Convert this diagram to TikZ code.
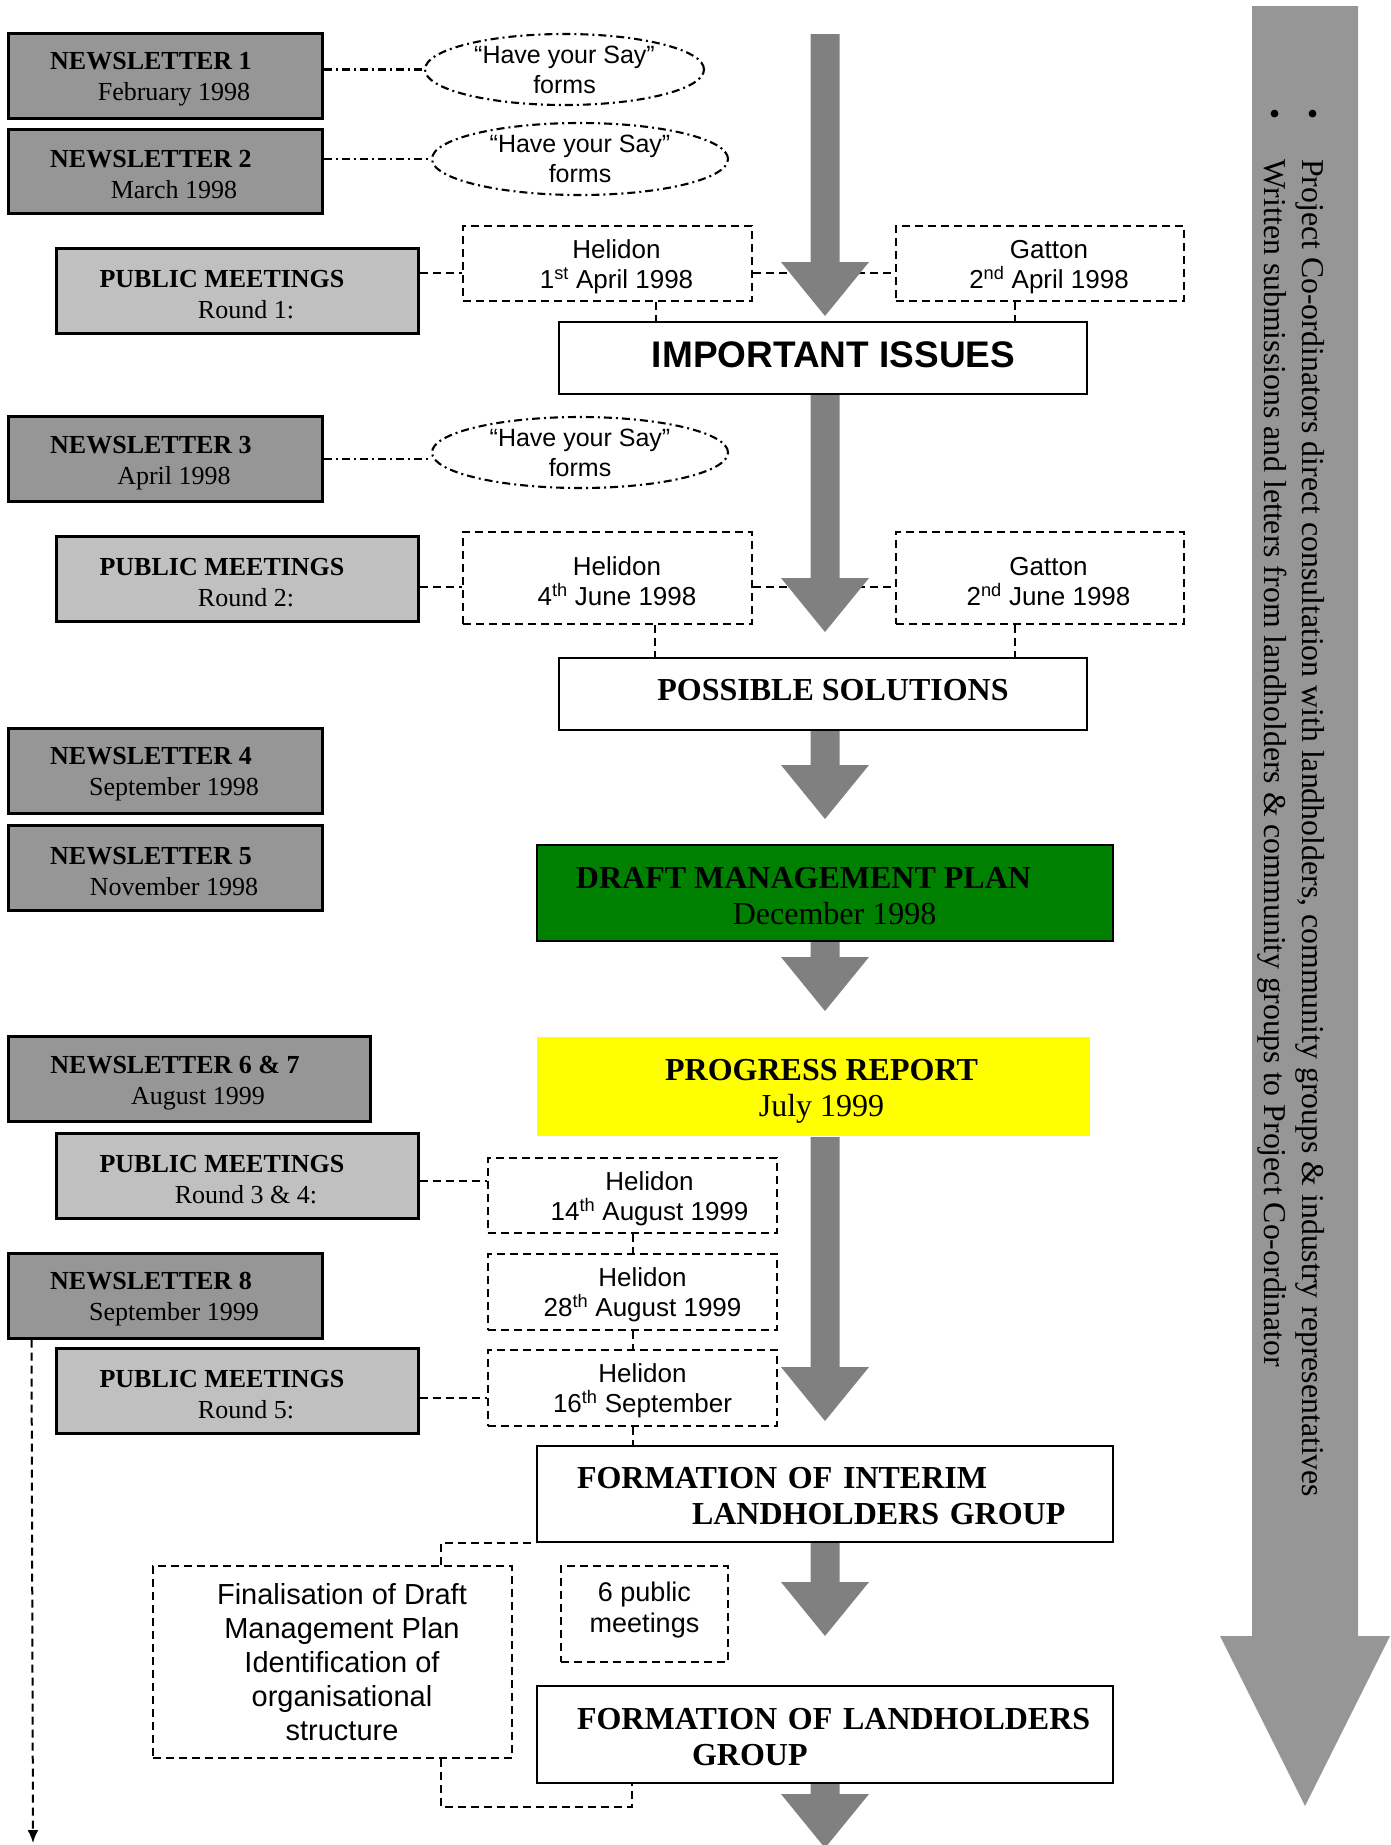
\documentclass[tikz,border=0pt]{standalone}
\usepackage{fontspec}
\setmainfont{Liberation Serif}
\setsansfont{Liberation Sans}
\usetikzlibrary{calc,shapes.geometric,arrows.meta}
\pgfdeclarelayer{background}
\pgfsetlayers{background,main}
\definecolor{nlgray}{HTML}{969696}
\definecolor{pmgray}{HTML}{C0C0C0}
\definecolor{arrgray}{HTML}{808080}
\definecolor{biggray}{HTML}{969696}
\definecolor{draftgreen}{HTML}{008000}
\definecolor{progyellow}{HTML}{FFFF00}
\newcommand\fSer{\fontsize{26pt}{31pt}\selectfont}
\newcommand\fSans{\sffamily\fontsize{26pt}{30pt}\selectfont}
\newcommand\fSay{\sffamily\fontsize{25pt}{30pt}\selectfont}
\newcommand\fBig{\fontsize{32pt}{36pt}\selectfont}
\newcommand\fImp{\sffamily\bfseries\fontsize{37pt}{40pt}\selectfont}
\newcommand\fFin{\sffamily\fontsize{29pt}{34pt}\selectfont}
\newcommand\fSix{\sffamily\fontsize{27pt}{31pt}\selectfont}
\newcommand\fRot{\fontsize{31.8pt}{38pt}\selectfont}
\newcommand\sh[1]{\hspace*{#1pt}}
\newcommand\up[1]{\rule{0pt}{#1pt}}
\newcommand\dn[1]{\rule[-#1pt]{0pt}{0pt}}
\newcommand\blockarrow[2]{\fill[arrgray] let \p1=#1, \p2=#2 in
  (\x2-14.5pt,\y1) -- (\x2+14.5pt,\y1) -- (\x2+14.5pt,\y2+54pt) -- (\x2+44pt,\y2+54pt)
  -- (\x2,\y2) -- (\x2-44pt,\y2+54pt) -- (\x2-14.5pt,\y2+54pt) -- cycle;}
\begin{document}
\begin{tikzpicture}[x=1pt,y=-1pt,
  nlbox/.style={draw=black, line width=3pt, fill=nlgray, minimum width=314pt, minimum height=85pt, inner sep=0pt, align=center, font=\fSer},
  pmbox/.style={draw=black, line width=3pt, fill=pmgray, minimum width=362pt, minimum height=85pt, inner sep=0pt, align=center, font=\fSer},
  saybub/.style={ellipse, draw=black, line width=2.1pt, dash pattern=on 8pt off 4pt on 2pt off 4pt, inner sep=0pt, align=center, font=\fSay},
  dbox/.style={draw=black, line width=2pt, dash pattern=on 8pt off 5pt, inner sep=0pt, align=center, font=\fSans},
  mainbox/.style={draw=black, line width=2pt, inner sep=0pt, align=center, minimum width=576pt},
  leftbox/.style={mainbox, text width=540pt, align=left, font=\fBig, minimum height=96pt},
  dcon/.style={line width=2pt, dash pattern=on 8pt off 5pt},
  ddcon/.style={line width=2.1pt, dash pattern=on 8pt off 4pt on 2pt off 4pt},
  rottext/.style={rotate=-90, anchor=base west, inner sep=0pt, font=\fRot},
]
\path[use as bounding box, fill=white] (0,0) rectangle (1391,1845);

% right-hand consultation arrow
\fill[biggray] (1252,6) -- (1358,6) -- (1358,1636) -- (1390,1636) -- (1305,1806) -- (1220,1636) -- (1252,1636) -- cycle;
\node[rottext] (b1) at (1302,108) {\makebox[51pt][l]{\textbullet}Project Co-ordinators direct consultation with landholders, community groups \& industry representatives};
\node[rottext] (b2) at (1264,108) {\makebox[51pt][l]{\textbullet}Written submissions and letters from landholders \& community groups to Project Co-ordinator};

% newsletters
\node[nlbox] (nl1) at (165,75.5) {\up{25}\sh{-28}\textbf{NEWSLETTER 1}\\\sh{18}February 1998};
\node[nlbox, minimum height=84pt] (nl2) at (165,171) {\up{25}\sh{-28}\textbf{NEWSLETTER 2}\\\sh{18}March 1998};
\node[nlbox] (nl3) at (165,459) {\up{25}\sh{-28}\textbf{NEWSLETTER 3}\\\sh{18}April 1998};
\node[nlbox] (nl4) at (165,770.5) {\up{25}\sh{-28}\textbf{NEWSLETTER 4}\\\sh{18}September 1998};
\node[nlbox] (nl5) at (165,867.5) {\up{25}\sh{-28}\textbf{NEWSLETTER 5}\\\sh{18}November 1998};
\node[nlbox, minimum width=362pt] (nl67) at (189,1079) {\up{25}\sh{-28}\textbf{NEWSLETTER 6 \& 7}\\\sh{18}August 1999};
\node[nlbox] (nl8) at (165,1295.5) {\up{25}\sh{-28}\textbf{NEWSLETTER 8}\\\sh{18}September 1999};

% public meetings
\node[pmbox] (pm1) at (237,291) {\up{25}\sh{-30}\textbf{PUBLIC MEETINGS}\\\sh{18}Round 1:};
\node[pmbox] (pm2) at (237,579) {\up{25}\sh{-30}\textbf{PUBLIC MEETINGS}\\\sh{18}Round 2:};
\node[pmbox] (pm34) at (237,1175.5) {\up{25}\sh{-30}\textbf{PUBLIC MEETINGS}\\\sh{18}Round 3 \& 4:};
\node[pmbox] (pm5) at (237,1391) {\up{25}\sh{-30}\textbf{PUBLIC MEETINGS}\\\sh{18}Round 5:};

% have your say forms
\node[saybub, minimum width=279pt, minimum height=71pt] (e1) at (564.5,69.5) {“Have your Say”\\forms};
\node[saybub, minimum width=296pt, minimum height=72pt] (e2) at (580,159) {“Have your Say”\\forms};
\node[saybub, minimum width=296pt, minimum height=71pt] (e3) at (580,452.5) {“Have your Say”\\forms};

% meeting venues
\node[dbox, minimum width=289pt, minimum height=75pt] (h1) at (607.5,263.5) {\up{25}\sh{18}Helidon\\\sh{18}1\textsuperscript{st} April 1998};
\node[dbox, minimum width=288pt, minimum height=75pt] (g1) at (1040,263.5) {\up{25}\sh{18}Gatton\\\sh{18}2\textsuperscript{nd} April 1998};
\node[dbox, minimum width=289pt, minimum height=92pt] (h2) at (607.5,578) {\up{25}\sh{19}Helidon\\\sh{19}4\textsuperscript{th} June 1998};
\node[dbox, minimum width=288pt, minimum height=92pt] (g2) at (1040,578) {\up{25}\sh{17}Gatton\\\sh{17}2\textsuperscript{nd} June 1998};
\node[dbox, minimum width=289pt, minimum height=75pt] (h3) at (632.5,1195.5) {\up{25}\sh{34}Helidon\\\sh{34}14\textsuperscript{th} August 1999};
\node[dbox, minimum width=289pt, minimum height=76pt] (h4) at (632.5,1292) {\up{25}\sh{20}Helidon\\\sh{20}28\textsuperscript{th} August 1999};
\node[dbox, minimum width=289pt, minimum height=76pt] (h5) at (632.5,1388) {\up{25}\sh{20}Helidon\\\sh{20}16\textsuperscript{th} September};
\node[dbox, font=\fSix, minimum width=167pt, minimum height=96pt] (six) at (644.5,1614) {6 public\\meetings\dn{13}};
\node[dbox, font=\fFin, minimum width=359pt, minimum height=192pt] (fin) at (332.5,1662) {\sh{19}Finalisation of Draft\\\sh{19}Management Plan\\\sh{19}Identification of\\\sh{19}organisational\\\sh{19}structure};

% main flow
\node[mainbox, minimum width=528pt, minimum height=72pt, font=\fImp] (imp) at (823,358) {\sh{21}IMPORTANT ISSUES\dn{6}};
\node[mainbox, minimum width=528pt, minimum height=72pt, font=\fBig] (pos) at (823,694) {\sh{20}\textbf{POSSIBLE SOLUTIONS}\dn{8}};
\node[mainbox, fill=draftgreen, minimum height=96pt, font=\fBig] (draft) at (825,893) {\up{27}\sh{-43}\textbf{DRAFT MANAGEMENT PLAN}\\\sh{19}December 1998};
\node[mainbox, draw=none, fill=progyellow, minimum width=553pt, minimum height=99pt, font=\fBig] (prog) at (813.5,1086.5) {\up{30.5}\sh{16}\textbf{PROGRESS REPORT}\\\sh{16}July 1999};
\node[leftbox] (interim) at (825,1494) {\up{26}\sh{22}\textbf{FORMATION OF INTERIM}\\\sh{137}\textbf{LANDHOLDERS GROUP}};
\node[leftbox, minimum height=97pt] (land) at (825,1734.5) {\up{27}\sh{22}\textbf{FORMATION OF LANDHOLDERS}\\\sh{137}\textbf{GROUP}};

% left time line
\begin{pgfonlayer}{background}
\draw[line width=2pt] ([xshift=25pt]nl1.south west) -- ([xshift=25pt]nl8.north west);
\end{pgfonlayer}
\coordinate (lend) at (33,1843);
\draw[line width=2pt, dash pattern=on 8pt off 5pt, -{Latex[length=13pt,width=11pt]}] ([xshift=25pt]nl8.south west) -- (lend);

% dash-dot links to forms
\draw[ddcon] (nl1.east |- e1.west) -- (e1.west);
\draw[ddcon] (nl2.east |- e2.west) -- (e2.west);
\draw[ddcon] (nl3.east) -- (nl3.east -| e3.west);

% dashed links
\coordinate (r1) at (0,273);
\coordinate (r2) at (0,587);
\coordinate (r3) at (0,1181);
\coordinate (r5) at (0,1398);
\draw[dcon] (pm1.east |- r1) -- (h1.west |- r1);
\draw[dcon] (h1.east |- r1) -- (g1.west |- r1);
\draw[dcon] (pm2.east |- r2) -- (h2.west |- r2);
\draw[dcon] (h2.east |- r2) -- (g2.west |- r2);
\draw[dcon] (pm34.east |- r3) -- (h3.west |- r3);
\draw[dcon] (pm5.east |- r5) -- (h5.west |- r5);
\draw[dcon] ([xshift=48.5pt]h1.south) -- ([xshift=48.5pt]h1.south |- imp.north);
\draw[dcon] ([xshift=-25pt]g1.south) -- ([xshift=-25pt]g1.south |- imp.north);
\draw[dcon] ([xshift=47.5pt]h2.south) -- ([xshift=47.5pt]h2.south |- pos.north);
\draw[dcon] ([xshift=-25pt]g2.south) -- ([xshift=-25pt]g2.south |- pos.north);
\draw[dcon] (h3.south) -- (h4.north);
\draw[dcon] (h4.south) -- (h5.north);
\draw[dcon] (h5.south) -- (h5.south |- interim.north);
\draw[dcon] ([xshift=108.5pt]fin.north) |- (interim.south west);
\draw[dcon] ([xshift=108.5pt]fin.south) -- ++(0,48) -| ([xshift=-193pt]land.south);

% grey flow arrows
\coordinate (ax) at (825,0);
\coordinate (atop) at (825,34);
\coordinate (abot) at (825,1848);
\path (imp.north -| ax) ++(0,-5) coordinate (t1);
\path (pos.north -| ax) ++(0,-25) coordinate (t2);
\path (draft.north -| ax) ++(0,-25) coordinate (t3);
\path (prog.north -| ax) ++(0,-25) coordinate (t4);
\path (interim.north -| ax) ++(0,-24) coordinate (t5);
\path (land.north -| ax) ++(0,-49) coordinate (t6);
\blockarrow{(atop)}{(t1)}
\blockarrow{(imp.south -| ax)}{(t2)}
\blockarrow{(pos.south -| ax)}{(t3)}
\blockarrow{(draft.south -| ax)}{(t4)}
\blockarrow{(prog.south -| ax)}{(t5)}
\blockarrow{(interim.south -| ax)}{(t6)}
\blockarrow{(land.south -| ax)}{(abot)}
\end{tikzpicture}
\end{document}
